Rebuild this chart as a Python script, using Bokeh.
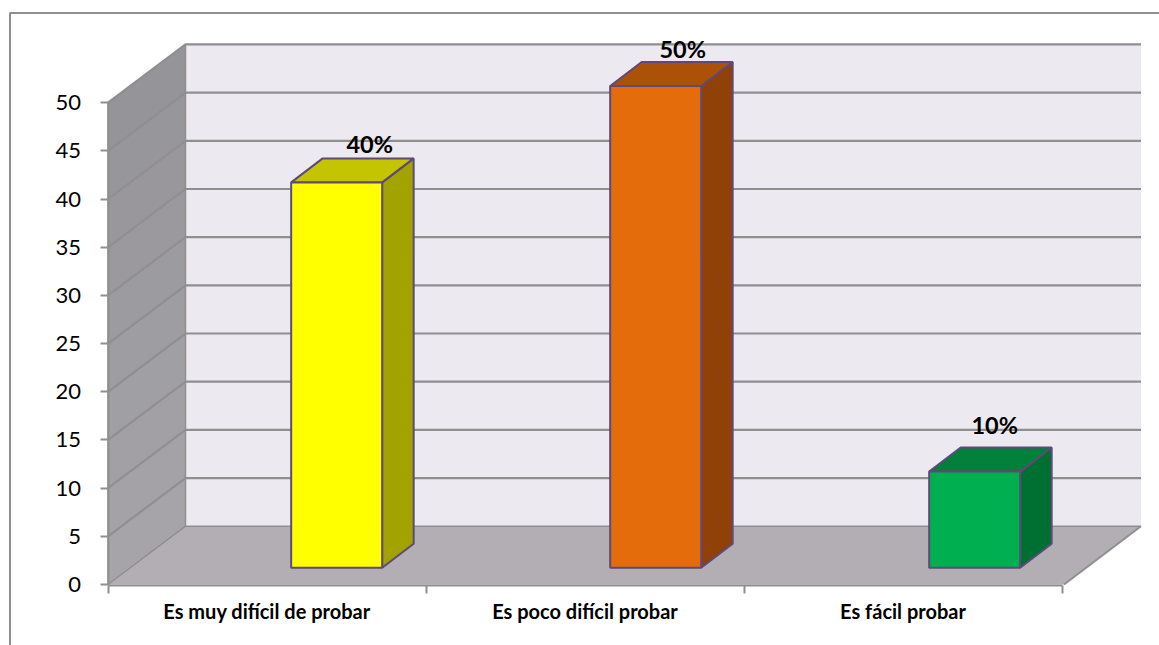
from bokeh.plotting import figure
from bokeh.models import LinearAxis, FixedTicker, Range1d
from bokeh.core.properties import value
from bokeh.embed import file_html
from bokeh.resources import INLINE

# ---------- data ----------
categories = ["Es muy difícil de probar", "Es poco difícil probar", "Es fácil probar"]
values = [40, 50, 10]
labels = ["40%", "50%", "10%"]
y_ticks = [0, 5, 10, 15, 20, 25, 30, 35, 40, 45, 50]
front_colors = ["#ffff00", "#e46c0a", "#00b050"]
top_colors = ["#c4c400", "#ab5108", "#00803a"]
side_colors = ["#a3a300", "#8f4107", "#006f32"]

# ---------- scale (page px) ----------
W, H = 1159, 645
PAGE = 0
BAND = 318.0          # px per category
UNIT = 9.635          # px per value unit
X0 = 107.5            # page x of category edge 0
Y0 = 584.0            # page y of value 0
x_of = lambda px: (px - X0) / BAND
y_of = lambda py: (Y0 - py) / UNIT
dx = lambda px: px / BAND
dy = lambda px: px / UNIT

p = figure(width=W, height=H, output_backend="svg", toolbar_location=None,
           x_axis_type=None, y_axis_type=None, min_border=0,
           x_range=Range1d(x_of(PAGE), x_of(PAGE + W)),
           y_range=Range1d(y_of(PAGE + H), y_of(PAGE)),
           outline_line_color=None, background_fill_color="white",
           border_fill_color="white")

GRAY = "#8f8f8f"
n = len(categories)
ymax = max(y_ticks)
back_x, back_y = dx(77.5), dy(58.3)
right_x = n + dx(79)

# outer chart border (top and left only are visible)
p.line([x_of(9.5), x_of(9.5), x_of(PAGE + W)], [y_of(PAGE + H), y_of(12.5), y_of(12.5)],
       line_color=GRAY, line_width=2)

# back wall
p.patch([back_x, right_x, right_x, back_x],
        [back_y, back_y, ymax + back_y, ymax + back_y],
        fill_color="#ece9f1", line_color=None)

# left wall, slightly darker towards the top
for lo, hi in zip(y_ticks[:-1], y_ticks[1:]):
    t = lo / ymax
    c = tuple(round(a + (b - a) * t) for a, b in zip((0xa6, 0xa4, 0xa8), (0x93, 0x92, 0x96)))
    p.patch([0, back_x, back_x, 0], [lo, lo + back_y, hi + back_y, hi],
            fill_color="#%02x%02x%02x" % c, line_color=None)

# floor
p.patch([0, n + dx(2), right_x, back_x], [0, 0, back_y, back_y],
        fill_color="#b3aeb3", line_color=None)

# gridlines on both walls
for v in y_ticks:
    p.line([0, back_x, right_x], [v, v + back_y, v + back_y], line_color=GRAY,
           line_width=2.2 if v else 1.5)
p.line([back_x, back_x], [back_y, ymax + back_y], line_color=GRAY, line_width=1.5)
p.line([0, 0], [0, ymax], line_color=GRAY, line_width=1.5)
p.line([n + dx(2), right_x], [0, back_y], line_color=GRAY, line_width=2)

# 3D bars
EDGE = "#5f497a"
bar_left, bar_step, bar_w = 0.5760, 319 / BAND, dx(91)
base = dy(16.7)
dep_x, dep_y = dx(31.5), dy(24)
label_dx = [33, 27, 20]
label_dy = [14.5, 13, 22]
for i, v in enumerate(values):
    l = i * bar_step + bar_left
    r = l + bar_w
    top = base + v
    p.patch([r, r + dep_x, r + dep_x, r], [base, base + dep_y, top + dep_y, top],
            fill_color=side_colors[i], line_color=EDGE, line_width=2)
    p.patch([l, r, r + dep_x, l + dep_x], [top, top, top + dep_y, top + dep_y],
            fill_color=top_colors[i], line_color=EDGE, line_width=2)
    p.patch([l, r, r, l], [base, base, top, top],
            fill_color=front_colors[i], line_color=EDGE, line_width=2)
    p.text([l + bar_w / 2 + dx(label_dx[i])], [top + dep_y + dy(label_dy[i])], text=[labels[i]],
           text_font=value("Lato"), text_font_style="bold", text_font_size="23.5px",
           text_color="#000000", text_align="center", text_baseline="alphabetic")

# value axis
ya = LinearAxis(ticker=FixedTicker(ticks=y_ticks), fixed_location=0, bounds=(0, ymax))
ya.axis_line_color = GRAY
ya.axis_line_width = 2
ya.major_tick_line_color = GRAY
ya.major_tick_line_width = 2
ya.major_tick_out = 8
ya.major_tick_in = 0
ya.minor_tick_line_color = None
ya.major_label_text_font = "Lato"
ya.major_label_text_font_size = "22px"
ya.major_label_text_color = "#000000"
ya.major_label_standoff = 19
p.add_layout(ya, "left")

# category axis: tick marks at band edges
xt = LinearAxis(ticker=FixedTicker(ticks=list(range(n + 1))), fixed_location=-0.12, bounds=(0, n))
xt.axis_line_color = GRAY
xt.axis_line_width = 2
xt.major_tick_line_color = GRAY
xt.major_tick_line_width = 2
xt.major_tick_out = 8
xt.major_tick_in = 0
xt.minor_tick_line_color = None
xt.major_label_text_font_size = "0px"
xt.major_label_text_color = None
p.add_layout(xt, "below")

# category axis: labels at band centres
centers = [i + 0.5 for i in range(n)]
xl = LinearAxis(ticker=FixedTicker(ticks=centers), fixed_location=0,
                major_label_overrides=dict(zip(centers, categories)))
xl.axis_line_color = None
xl.major_tick_line_color = None
xl.minor_tick_line_color = None
xl.major_tick_out = 0
xl.major_tick_in = 0
xl.major_label_standoff = 14
xl.major_label_text_font = "Lato"
xl.major_label_text_font_style = "bold"
xl.major_label_text_font_size = "20px"
xl.major_label_text_color = "#000000"
p.add_layout(xl, "below")

open("out.html", "w").write(file_html(p, INLINE))
